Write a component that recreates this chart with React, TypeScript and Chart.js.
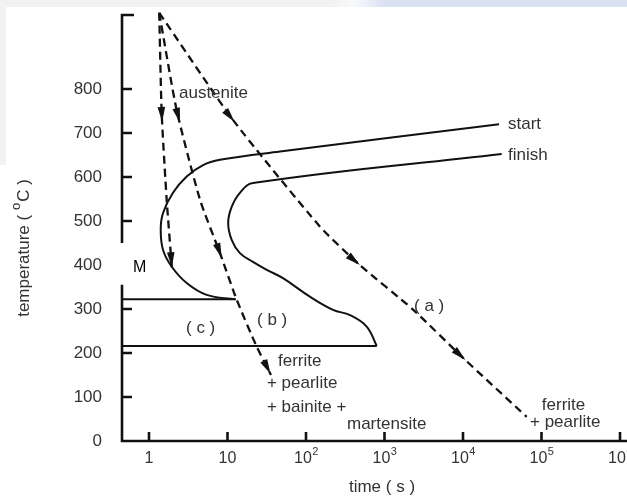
import React, { useEffect, useRef } from "react";
import { Chart, registerables } from "chart.js";

Chart.register(...registerables);

// ---- axes ----
const timeMin = 0.453;
const timeMax = 1228000;
const tempMin = 0;
const tempMax = 968;
const tempTicks = [0, 100, 200, 300, 400, 500, 600, 700, 800];
const timeTicks = [1, 10, 100, 1000, 10000, 100000, 1000000];
const timeTickBase = ["1", "10", "10", "10", "10", "10", "10"];
const timeTickExp = ["", "", "2", "3", "4", "5", "6"];
const axisGapTemps = [450, 355]; // temperature range where the y axis is interrupted (label "M")

// ---- transformation start curve (s, °C) ----
const startTimes = [28800, 46.7, 8.02, 4.88, 3.02, 2.02, 1.51, 1.41, 1.51, 1.95, 3.02, 5.43, 12.5];
const startTemps = [720, 658, 639, 627, 601, 564, 518, 480, 434, 396, 359, 332, 322];

// ---- transformation finish curve ----
const finishTimes = [31100, 21.1, 14.4, 11.3, 10.2, 11.3, 14.4, 21.1, 31.6, 50.9, 112, 221, 364, 593, 796];
const finishTemps = [652, 586, 564, 532, 496, 457, 427, 407, 389, 370, 328, 298, 286, 260, 216];

// ---- horizontal lines ----
const msTimes = [0.453, 12.8];
const msTemps = [322, 322];
const lowerTimes = [0.453, 796];
const lowerTemps = [216, 216];

// ---- cooling paths (dashed) ----
const coolATimes = [1.35, 11.7, 151, 470, 2330, 10000, 64700];
const coolATemps = [973, 730, 487, 402, 298, 189, 55];
const coolBTimes = [1.35, 2.25, 4.47, 8.02, 13.1, 23.6, 35.8];
const coolBTemps = [973, 752, 548, 427, 321, 214, 150];
const coolCTimes = [1.35, 1.45, 1.68, 1.96];
const coolCTemps = [973, 746, 548, 393];

// ---- arrowheads: which path, at which temperature ----
const arrowPaths = ["c", "c", "b", "b", "b", "a", "a", "a"];
const arrowTemps = [725, 395, 723, 416, 152, 725, 400, 184];

// ---- text labels ----
const labelTexts = ["austenite", "start", "finish", "( a )", "( b )", "( c )", "ferrite", "+ pearlite", "+ bainite +", "martensite", "ferrite", "+ pearlite"];
const labelTimes = [2.41, 37400, 37400, 2377, 23.8, 2.96, 44, 31.8, 31.8, 333, 101000, 71400];
const labelTemps = [791, 720, 650, 305, 275, 255, 182, 130, 77, 39, 82, 43];
const mLabel = "M";
const mTime = 0.625;
const mTemp = 393;

const FONT = "'Liberation Sans', Arial, Helvetica, sans-serif";
const INK = "#111";
const TEXT = "#333";

const pts = (xs: number[], ys: number[]) => xs.map((x, i) => ({ x, y: ys[i] }));

const tttPlugin = {
  id: "ttt",
  beforeDraw(chart: any) {
    const ctx = chart.ctx;
    ctx.save();
    ctx.fillStyle = "#ffffff";
    ctx.fillRect(0, 0, chart.width, chart.height);
    const g = ctx.createLinearGradient(330, 0, 385, 0);
    g.addColorStop(0, "#f2f2f2");
    g.addColorStop(0.45, "#f8f9fb");
    g.addColorStop(1, "#d9e1f2");
    ctx.fillStyle = g;
    ctx.fillRect(0, 0, chart.width, 7);
    ctx.fillStyle = "#f2f2f2";
    ctx.fillRect(0, 0, 6, 165);
    ctx.restore();
  },
  afterDraw(chart: any) {
    const ctx = chart.ctx;
    const xs = chart.scales.x;
    const ys = chart.scales.y;
    const X = (v: number) => xs.getPixelForValue(v);
    const Y = (v: number) => ys.getPixelForValue(v);
    const { left, top, bottom } = chart.chartArea;
    const right = chart.width;
    ctx.save();

    // arrowheads
    const pathIndex: Record<string, number> = { a: 4, b: 5, c: 6 };
    ctx.fillStyle = INK;
    arrowPaths.forEach((p, k) => {
      const meta = chart.getDatasetMeta(pathIndex[p]);
      const py = Y(arrowTemps[k]);
      const el = meta.data;
      for (let i = 0; i < el.length - 1; i++) {
        const a = el[i], b = el[i + 1];
        if (py >= a.y - 0.01 && py <= b.y + 0.01) {
          const f = (py - a.y) / (b.y - a.y || 1);
          const tx = a.x + f * (b.x - a.x);
          let dx = b.x - a.x, dy = b.y - a.y;
          const L = Math.hypot(dx, dy) || 1;
          dx /= L; dy /= L;
          const len = 15, hw = 3.8;
          ctx.beginPath();
          ctx.moveTo(tx, py);
          ctx.lineTo(tx - dx * len - dy * hw, py - dy * len + dx * hw);
          ctx.lineTo(tx - dx * len + dy * hw, py - dy * len - dx * hw);
          ctx.closePath();
          ctx.fill();
          break;
        }
      }
    });

    // axes
    ctx.strokeStyle = INK;
    ctx.lineWidth = 2.6;
    ctx.lineCap = "butt";
    ctx.beginPath();
    ctx.moveTo(left + 12, top);
    ctx.lineTo(left, top);
    ctx.lineTo(left, Y(axisGapTemps[0]));
    ctx.moveTo(left, Y(axisGapTemps[1]));
    ctx.lineTo(left, bottom);
    ctx.lineTo(right, bottom);
    ctx.stroke();

    // y ticks (inward)
    ctx.beginPath();
    tempTicks.forEach((v) => {
      if (v <= tempMin) return;
      if (v < axisGapTemps[0] && v > axisGapTemps[1]) return;
      ctx.moveTo(left, Y(v));
      ctx.lineTo(left + 10, Y(v));
    });
    // x ticks (inward)
    timeTicks.forEach((v) => {
      ctx.moveTo(X(v), bottom);
      ctx.lineTo(X(v), bottom - 9);
    });
    ctx.stroke();

    // x tick labels
    ctx.fillStyle = TEXT;
    ctx.textBaseline = "alphabetic";
    ctx.textAlign = "left";
    timeTicks.forEach((v, i) => {
      ctx.font = `16px ${FONT}`;
      const wb = ctx.measureText(timeTickBase[i]).width;
      ctx.font = `11px ${FONT}`;
      const we = timeTickExp[i] ? ctx.measureText(timeTickExp[i]).width : 0;
      const x0 = X(v) - (wb + we) / 2;
      ctx.font = `16px ${FONT}`;
      ctx.fillText(timeTickBase[i], x0, bottom + 22);
      if (timeTickExp[i]) {
        ctx.font = `11px ${FONT}`;
        ctx.fillText(timeTickExp[i], x0 + wb + 0.5, bottom + 14);
      }
    });

    // x title
    ctx.font = `17px ${FONT}`;
    ctx.textAlign = "center";
    ctx.textBaseline = "middle";
    ctx.fillText("time ( s )", 382, 487);

    // y title (rotated, superscript o)
    ctx.save();
    ctx.translate(24, 248);
    ctx.rotate(-Math.PI / 2);
    ctx.textAlign = "left";
    ctx.textBaseline = "middle";
    const p1 = "temperature ( ";
    const p2 = "o";
    const p3 = "C )";
    ctx.font = `17px ${FONT}`;
    const w1 = ctx.measureText(p1).width;
    const w3 = ctx.measureText(p3).width;
    ctx.font = `13px ${FONT}`;
    const w2 = ctx.measureText(p2).width;
    let x = -(w1 + w2 + w3 + 1) / 2;
    ctx.font = `17px ${FONT}`;
    ctx.fillText(p1, x, 0);
    x += w1;
    ctx.font = `13px ${FONT}`;
    ctx.fillText(p2, x, -8);
    x += w2 + 1;
    ctx.font = `17px ${FONT}`;
    ctx.fillText(p3, x, 0);
    ctx.restore();

    // annotation labels
    ctx.font = `17px ${FONT}`;
    ctx.textAlign = "left";
    ctx.textBaseline = "middle";
    ctx.fillStyle = TEXT;
    labelTexts.forEach((t, i) => {
      ctx.fillText(t, X(labelTimes[i]), Y(labelTemps[i]));
    });
    ctx.fillStyle = "#000";
    ctx.font = `16px ${FONT}`;
    ctx.fillText(mLabel, X(mTime), Y(mTemp));

    ctx.restore();
  },
};

export default function App() {
  const ref = useRef<HTMLCanvasElement | null>(null);

  useEffect(() => {
    if (!ref.current) return;
    const solid = (data: any[], tension: number) => ({
      data,
      borderColor: INK,
      borderWidth: 2,
      pointRadius: 0,
      tension,
      fill: false,
      clip: false as any,
    });
    const dashed = (data: any[]) => ({
      data,
      borderColor: INK,
      borderWidth: 2.3,
      borderDash: [8, 5],
      pointRadius: 0,
      tension: 0.2,
      fill: false,
      clip: false as any,
    });
    const chart = new Chart(ref.current, {
      type: "line",
      data: {
        datasets: [
          solid(pts(startTimes, startTemps), 0.4),
          solid(pts(msTimes, msTemps), 0),
          solid(pts(finishTimes, finishTemps), 0.4),
          solid(pts(lowerTimes, lowerTemps), 0),
          dashed(pts(coolATimes, coolATemps)),
          dashed(pts(coolBTimes, coolBTemps)),
          dashed(pts(coolCTimes, coolCTemps)),
        ] as any,
      },
      options: {
        animation: false,
        responsive: true,
        maintainAspectRatio: false,
        events: [],
        layout: { padding: { left: 0, top: 15, right: 0, bottom: 57 } },
        plugins: { legend: { display: false }, tooltip: { enabled: false } },
        scales: {
          x: { type: "logarithmic", min: timeMin, max: timeMax, display: false },
          y: {
            type: "linear",
            min: tempMin,
            max: tempMax,
            grid: { display: false },
            border: { display: false },
            ticks: { color: TEXT, font: { family: FONT, size: 17 }, padding: 12 },
            afterBuildTicks: (s: any) => {
              s.ticks = tempTicks.map((v) => ({ value: v }));
            },
            afterFit: (s: any) => {
              s.width = 122;
              s.paddingTop = 0;
              s.paddingBottom = 0;
            },
          },
        },
      } as any,
      plugins: [tttPlugin],
    });
    return () => chart.destroy();
  }, []);

  return (
    <div style={{ position: "absolute", left: 0, top: 0, width: 627, height: 498 }}>
      <canvas ref={ref} />
    </div>
  );
}
